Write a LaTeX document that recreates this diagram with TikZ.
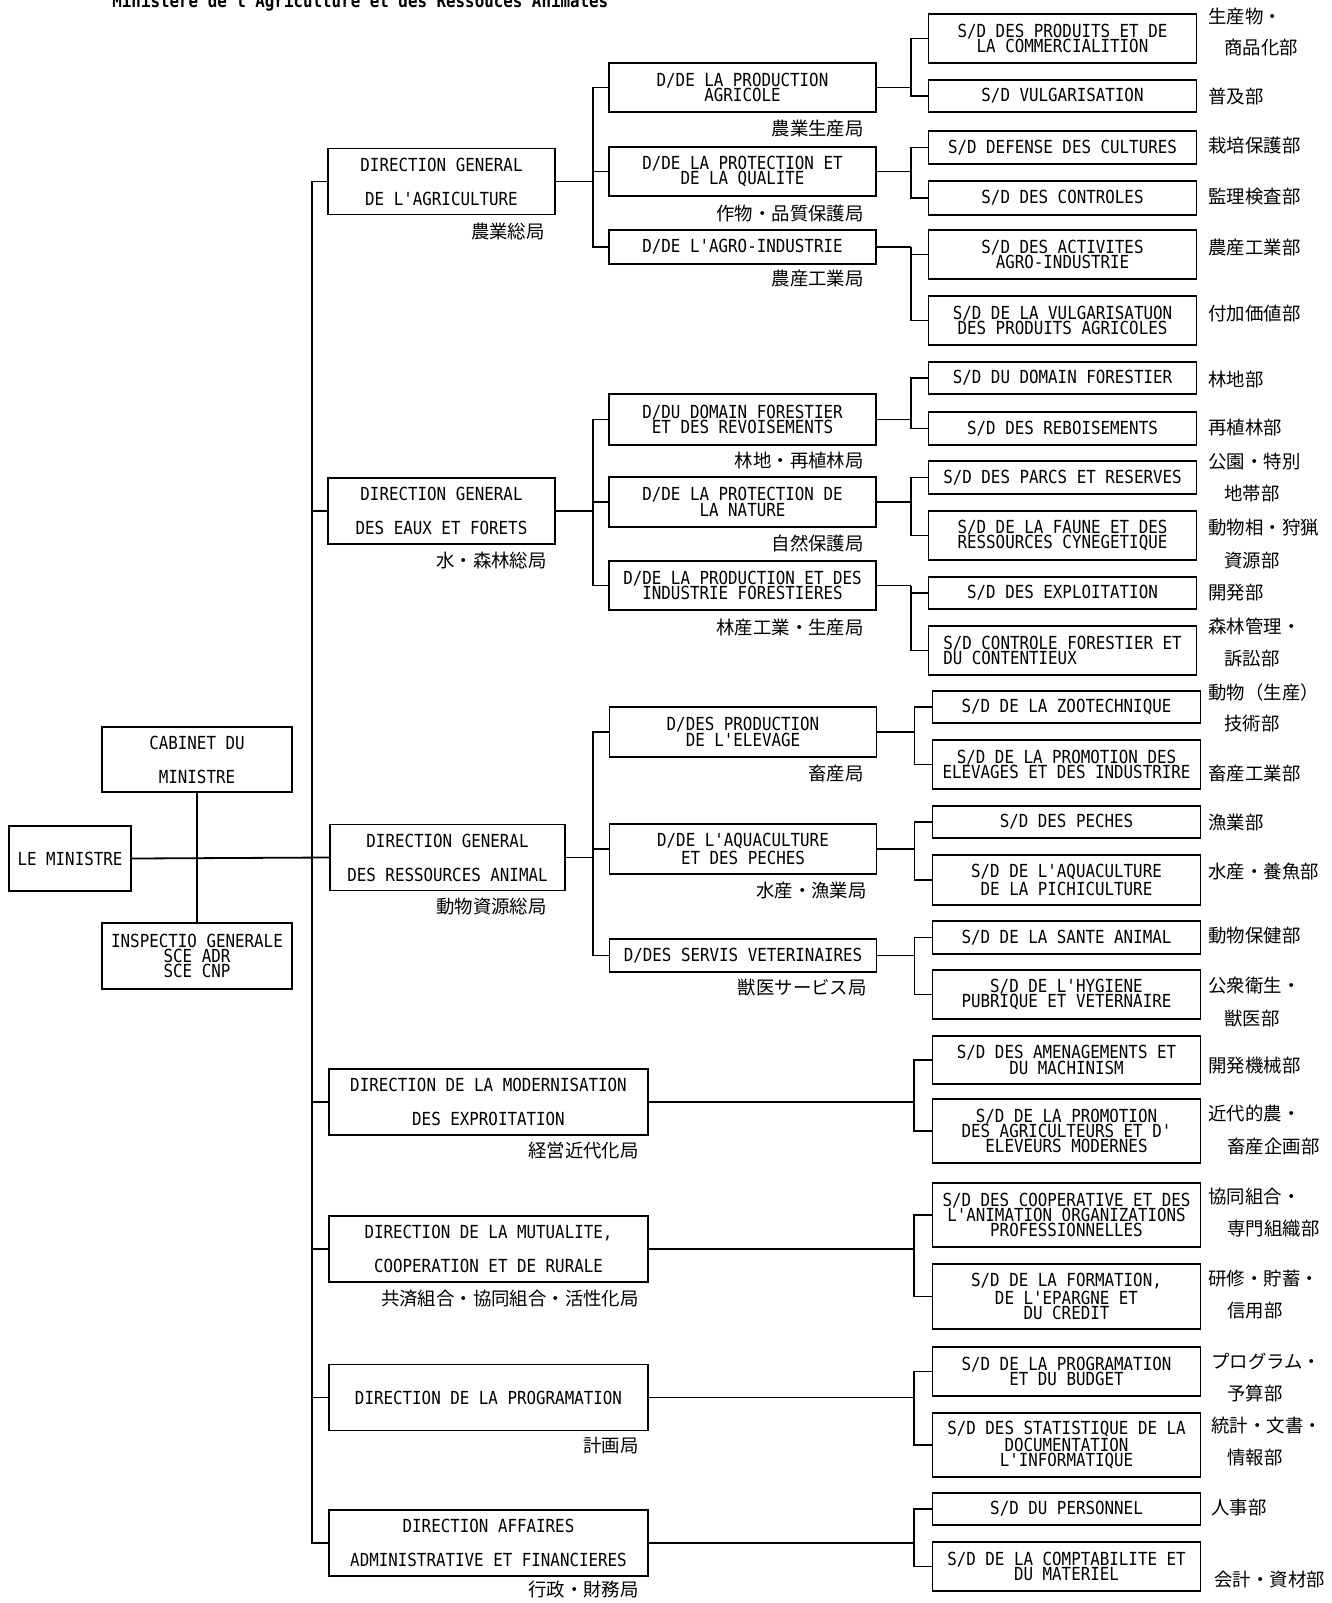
\documentclass[tikz,border=0pt]{standalone}
\usepackage{fontspec}
\newfontfamily\boxfont[FakeStretch=0.88]{DejaVu Sans Mono}
\newfontfamily\jpfont{Noto Sans CJK JP}
\tikzset{
    % Base box style
    unit/.style={
        rectangle,
        draw,
        line width=0.9pt,
        inner sep=0pt,
        align=center,
        font=\fontsize{9}{7.6}\selectfont\boxfont
    },
    % Top level boxes, wide line spacing
    head/.style={
        unit,
        font=\fontsize{9}{17}\selectfont\boxfont,
        minimum height=33pt
    },
    dg/.style={head, minimum width=113.5pt},
    dgwide/.style={head, minimum width=159.5pt},
    % Direction and sub-direction boxes
    dbox/.style={unit, minimum width=133.5pt, minimum height=#1},
    sbox/.style={unit, minimum width=134pt, minimum height=#1},
    % Japanese labels
    jlabel/.style={
        font=\fontsize{9.2}{10}\selectfont\jpfont,
        inner sep=0pt
    },
    % Connectors
    link/.style={line width=0.9pt}
}
\begin{document}
\begin{tikzpicture}[x=0.5pt, y=-0.5pt]
    \useasboundingbox (0,0) rectangle (1332,1603);

    % Title, cut at the top edge
    \node[anchor=base west, inner sep=0pt, font=\fontsize{9}{10}\selectfont\boxfont\bfseries] (title) at (112,7) {Ministere de l'Agriculture et des Ressouces Animales};

    % Minister
    \node[head, minimum width=61pt, minimum height=32.5pt] (min) at (70,858.5) {LE MINISTRE};
    \node[head, minimum width=95pt, minimum height=32.5pt] (cab) at (197,759.5) {CABINET DU\\MINISTRE};
    \node[unit, minimum width=95pt, minimum height=33pt] (insp) at (197,956) {INSPECTIO GENERALE\\SCE ADR\\SCE CNP};

    % General directions
    \node[dg] (dg1) at (441.5,181.5) {DIRECTION GENERAL\\DE L'AGRICULTURE};
    \node[dg] (dg2) at (441.5,511) {DIRECTION GENERAL\\DES EAUX ET FORETS};
    \node[head, minimum width=117.5pt] (dg3) at (447.5,857.5) {DIRECTION GENERAL\\DES RESSOURCES ANIMAL};
    \node[dgwide] (dg4) at (488.5,1102) {DIRECTION DE LA MODERNISATION\\DES EXPROITATION};
    \node[dgwide] (dg5) at (488.5,1249) {DIRECTION DE LA MUTUALITE,\\COOPERATION ET DE RURALE};
    \node[dgwide] (dg6) at (488.5,1397.5) {DIRECTION DE LA PROGRAMATION};
    \node[dgwide] (dg7) at (488.5,1543) {DIRECTION AFFAIRES\\ADMINISTRATIVE ET FINANCIERES};

    \node[jlabel, anchor=east] (jdg1) at (545,232) {農業総局};
    \node[jlabel, anchor=east] (jdg2) at (547,560) {水・森林総局};
    \node[jlabel, anchor=east] (jdg3) at (547,907) {動物資源総局};
    \node[jlabel, anchor=east] (jdg4) at (639,1150) {経営近代化局};
    \node[jlabel, anchor=east] (jdg5) at (639,1299) {共済組合・協同組合・活性化局};
    \node[jlabel, anchor=east] (jdg6) at (639,1446) {計画局};
    \node[jlabel, anchor=east] (jdg7) at (639,1590) {行政・財務局};

    % Directions
    \node[dbox=24.5pt] (d11) at (742.5,87.5) {D/DE LA PRODUCTION\\AGRICOLE};
    \node[dbox=24.5pt] (d12) at (742.5,171.5) {D/DE LA PROTECTION ET\\DE LA QUALITE};
    \node[dbox=17pt] (d13) at (742.5,247) {D/DE L'AGRO-INDUSTRIE};
    \node[dbox=25.5pt] (d21) at (742.5,419.5) {D/DU DOMAIN FORESTIER\\ET DES REVOISEMENTS};
    \node[dbox=25pt] (d22) at (742.5,502) {D/DE LA PROTECTION DE\\LA NATURE};
    \node[dbox=24.5pt] (d23) at (742.5,585.5) {D/DE LA PRODUCTION ET DES\\INDUSTRIE FORESTIERES};
    \node[dbox=25pt] (d31) at (743,732) {D/DES PRODUCTION\\DE L'ELEVAGE};
    \node[dbox=25pt] (d32) at (743,849) {D/DE L'AQUACULTURE\\ET DES PECHES};
    \node[dbox=16.5pt] (d33) at (743,955.5) {D/DES SERVIS VETERINAIRES};

    \node[jlabel, anchor=east] (jd11) at (864,129) {農業生産局};
    \node[jlabel, anchor=east] (jd12) at (864,214) {作物・品質保護局};
    \node[jlabel, anchor=east] (jd13) at (864,279) {農産工業局};
    \node[jlabel, anchor=east] (jd21) at (864,461) {林地・再植林局};
    \node[jlabel, anchor=east] (jd22) at (864,543) {自然保護局};
    \node[jlabel, anchor=east] (jd23) at (864,627) {林産工業・生産局};
    \node[jlabel, anchor=east] (jd31) at (864,773) {畜産局};
    \node[jlabel, anchor=east] (jd32) at (867,890) {水産・漁業局};
    \node[jlabel, anchor=east] (jd33) at (867,988) {獣医サービス局};

    % Sub-directions
    \node[sbox=24.5pt] (s111) at (1062.5,38.5) {S/D DES PRODUITS ET DE\\LA COMMERCIALITION};
    \node[sbox=16pt] (s112) at (1062.5,96) {S/D VULGARISATION};
    \node[sbox=16.5pt] (s121) at (1062.5,147.5) {S/D DEFENSE DES CULTURES};
    \node[sbox=17pt] (s122) at (1062.5,198) {S/D DES CONTROLES};
    \node[sbox=24.5pt] (s131) at (1062.5,254.5) {S/D DES ACTIVITES\\AGRO-INDUSTRIE};
    \node[sbox=24.5pt] (s132) at (1062.5,320.5) {S/D DE LA VULGARISATUON\\DES PRODUITS AGRICOLES};
    \node[sbox=16pt] (s211) at (1062.5,378) {S/D DU DOMAIN FORESTIER};
    \node[sbox=16.5pt] (s212) at (1062.5,428.5) {S/D DES REBOISEMENTS};
    \node[sbox=16.5pt] (s221) at (1062.5,477.5) {S/D DES PARCS ET RESERVES};
    \node[sbox=24.5pt, align=left] (s222) at (1062.5,535.5) {S/D DE LA FAUNE ET DES\\RESSOURCES CYNEGETIQUE};
    \node[sbox=16pt] (s231) at (1062.5,593) {S/D DES EXPLOITATION};
    \node[sbox=24.5pt, align=left] (s232) at (1062.5,650.5) {S/D CONTROLE FORESTIER ET\\DU CONTENTIEUX};
    \node[sbox=16pt] (s311) at (1066.5,707) {S/D DE LA ZOOTECHNIQUE};
    \node[sbox=24.5pt] (s312) at (1066.5,764.5) {S/D DE LA PROMOTION DES\\ELEVAGES ET DES INDUSTRIRE};
    \node[sbox=16pt] (s321) at (1066.5,822) {S/D DES PECHES};
    \node[sbox=25pt] (s322) at (1066.5,880) {S/D DE L'AQUACULTURE\\DE LA PICHICULTURE};
    \node[sbox=16.5pt] (s331) at (1066.5,937.5) {S/D DE LA SANTE ANIMAL};
    \node[sbox=24.5pt] (s332) at (1066.5,994.5) {S/D DE L'HYGIENE\\PUBRIQUE ET VETERNAIRE};
    \node[sbox=24pt] (s41) at (1066.5,1060) {S/D DES AMENAGEMENTS ET\\DU MACHINISM};
    \node[sbox=32pt] (s42) at (1066.5,1131) {S/D DE LA PROMOTION\\DES AGRICULTEURS ET D'\\ELEVEURS MODERNES};
    \node[sbox=32pt] (s51) at (1066.5,1215) {S/D DES COOPERATIVE ET DES\\L'ANIMATION ORGANIZATIONS\\PROFESSIONNELLES};
    \node[sbox=32.5pt] (s52) at (1066.5,1296.5) {S/D DE LA FORMATION,\\DE L'EPARGNE ET\\DU CREDIT};
    \node[sbox=24.5pt] (s61) at (1066.5,1371.5) {S/D DE LA PROGRAMATION\\ET DU BUDGET};
    \node[sbox=32pt] (s62) at (1066.5,1445) {S/D DES STATISTIQUE DE LA\\DOCUMENTATION\\L'INFORMATIQUE};
    \node[sbox=16pt] (s71) at (1066.5,1509) {S/D DU PERSONNEL};
    \node[sbox=24.5pt] (s72) at (1066.5,1566.5) {S/D DE LA COMPTABILITE ET\\DU MATERIEL};

    \node[jlabel, anchor=west] (js111a) at (1208,17) {生産物・};
    \node[jlabel, anchor=west] (js111b) at (1224,48) {商品化部};
    \node[jlabel, anchor=west] (js112) at (1208,96) {普及部};
    \node[jlabel, anchor=west] (js121) at (1208,146) {栽培保護部};
    \node[jlabel, anchor=west] (js122) at (1208,197) {監理検査部};
    \node[jlabel, anchor=west] (js131) at (1208,248) {農産工業部};
    \node[jlabel, anchor=west] (js132) at (1208,314) {付加価値部};
    \node[jlabel, anchor=west] (js211) at (1208,379) {林地部};
    \node[jlabel, anchor=west] (js212) at (1208,428) {再植林部};
    \node[jlabel, anchor=west] (js221a) at (1208,462) {公園・特別};
    \node[jlabel, anchor=west] (js221b) at (1224,494) {地帯部};
    \node[jlabel, anchor=west] (js222a) at (1208,528) {動物相・狩猟};
    \node[jlabel, anchor=west] (js222b) at (1224,561) {資源部};
    \node[jlabel, anchor=west] (js231) at (1208,593) {開発部};
    \node[jlabel, anchor=west] (js232a) at (1208,626) {森林管理・};
    \node[jlabel, anchor=west] (js232b) at (1224,659) {訴訟部};
    \node[jlabel, anchor=west] (js311a) at (1208,692) {動物（生産）};
    \node[jlabel, anchor=west] (js311b) at (1224,724) {技術部};
    \node[jlabel, anchor=west] (js312) at (1208,773) {畜産工業部};
    \node[jlabel, anchor=west] (js321) at (1208,822) {漁業部};
    \node[jlabel, anchor=west] (js322) at (1208,871) {水産・養魚部};
    \node[jlabel, anchor=west] (js331) at (1208,936) {動物保健部};
    \node[jlabel, anchor=west] (js332a) at (1208,986) {公衆衛生・};
    \node[jlabel, anchor=west] (js332b) at (1224,1019) {獣医部};
    \node[jlabel, anchor=west] (js41) at (1208,1066) {開発機械部};
    \node[jlabel, anchor=west] (js42a) at (1208,1113) {近代的農・};
    \node[jlabel, anchor=west] (js42b) at (1227,1146) {畜産企画部};
    \node[jlabel, anchor=west] (js51a) at (1208,1197) {協同組合・};
    \node[jlabel, anchor=west] (js51b) at (1227,1229) {専門組織部};
    \node[jlabel, anchor=west] (js52a) at (1208,1279) {研修・貯蓄・};
    \node[jlabel, anchor=west] (js52b) at (1227,1311) {信用部};
    \node[jlabel, anchor=west] (js61a) at (1211,1361) {プログラム・};
    \node[jlabel, anchor=west] (js61b) at (1227,1393) {予算部};
    \node[jlabel, anchor=west] (js62a) at (1211,1426) {統計・文書・};
    \node[jlabel, anchor=west] (js62b) at (1227,1458) {情報部};
    \node[jlabel, anchor=west] (js71) at (1211,1508) {人事部};
    \node[jlabel, anchor=west] (js72) at (1214,1580) {会計・資材部};

    % Minister links
    \draw[link] (cab) -- (insp);
    \draw[link] (min.east) -- (dg3.west);
    \coordinate (mb) at (312,858);
    \draw[link] (mb) |- (dg1.west);
    \draw[link] (mb) |- (dg2.west);
    \draw[link] (mb) |- (dg4.west);
    \draw[link] (mb) |- (dg5.west);
    \draw[link] (mb) |- (dg6.west);
    \draw[link] (mb) |- (dg7.west);

    % General directions to directions
    \draw[link] (dg1.east) -- ++(37,0) coordinate (b1);
    \draw[link] (b1) |- (d11.west);
    \draw[link] (b1) |- (d13.west);
    \draw[link] (b1) |- (d12.west);
    \draw[link] (dg2.east) -- ++(37,0) coordinate (b2);
    \draw[link] (b2) |- (d21.west);
    \draw[link] (b2) |- (d22.west);
    \draw[link] (b2) |- (d23.west);
    \draw[link] (dg3.east) -- ++(27,0) coordinate (b3);
    \draw[link] (b3) |- (d31.west);
    \draw[link] (b3) |- (d32.west);
    \draw[link] (b3) |- (d33.west);

    % Directions to sub-directions
    \draw[link] (d11.east) -- ++(34,0) coordinate (c11);
    \draw[link] (c11) |- (s111.west);
    \draw[link] (c11) |- (s112.west);
    \draw[link] (d12.east) -- ++(34,0) coordinate (c12);
    \draw[link] (c12) |- (s121.west);
    \draw[link] (c12) |- (s122.west);
    \draw[link] (d13.east) -- ++(34,0) coordinate (c13);
    \draw[link] (c13) |- (s131.west);
    \draw[link] (c13) |- (s132.west);
    \draw[link] (d21.east) -- ++(34,0) coordinate (c21);
    \draw[link] (c21) |- (s211.west);
    \draw[link] (c21) |- (s212.west);
    \draw[link] (d22.east) -- ++(34,0) coordinate (c22);
    \draw[link] (c22) |- (s221.west);
    \draw[link] (c22) |- (s222.west);
    \draw[link] (d23.east) -- ++(34,0) coordinate (c23);
    \draw[link] (c23) |- (s231.west);
    \draw[link] (c23) |- (s232.west);
    \draw[link] (d31.east) -- ++(37,0) coordinate (c31);
    \draw[link] (c31) |- (s311.west);
    \draw[link] (c31) |- (s312.west);
    \draw[link] (d32.east) -- ++(37,0) coordinate (c32);
    \draw[link] (c32) |- (s321.west);
    \draw[link] (c32) |- (s322.west);
    \draw[link] (d33.east) -- ++(37,0) coordinate (c33);
    \draw[link] (c33) |- (s331.west);
    \draw[link] (c33) |- (s332.west);

    % Directions without sub level
    \draw[link] (dg4.east) -- ++(265,0) coordinate (c4);
    \draw[link] (c4) |- (s41.west);
    \draw[link] (c4) |- (s42.west);
    \draw[link] (dg5.east) -- ++(265,0) coordinate (c5);
    \draw[link] (c5) |- (s51.west);
    \draw[link] (c5) |- (s52.west);
    \draw[link] (dg6.east) -- ++(265,0) coordinate (c6);
    \draw[link] (c6) |- (s61.west);
    \draw[link] (c6) |- (s62.west);
    \draw[link] (dg7.east) -- ++(265,0) coordinate (c7);
    \draw[link] (c7) |- (s71.west);
    \draw[link] (c7) |- (s72.west);
\end{tikzpicture}
\end{document}
